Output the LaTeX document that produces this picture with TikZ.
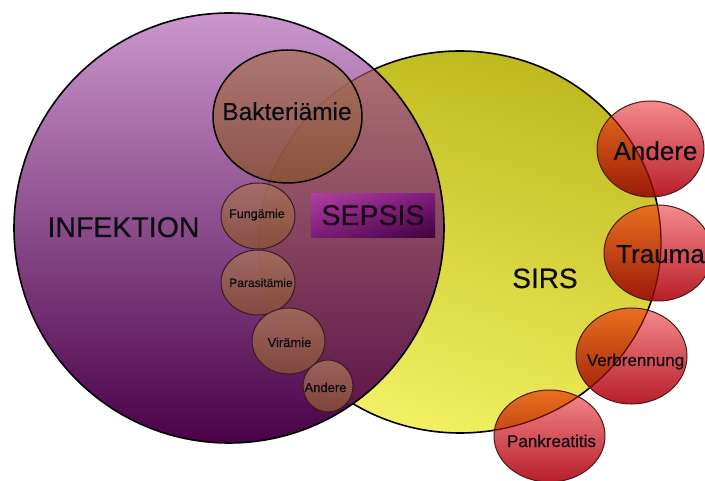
\documentclass[tikz,border=0pt]{standalone}
\usepackage{fontspec}
\setmainfont{Liberation Sans}[FakeBold=0.35]
\usetikzlibrary{shadings}
\newcommand\SirsPath{(460,242) ellipse [x radius=201pt, y radius=191pt]}
\newcommand\InfekPath{(229,228) circle [radius=215pt]}
\newcommand\FS[1]{\fontsize{#1}{#1}\selectfont}
\definecolor{ylUL}{HTML}{C6C224}
\definecolor{ylUR}{HTML}{B8B31A}
\definecolor{ylLL}{HTML}{F8F872}
\definecolor{ylLR}{HTML}{EAE650}
\definecolor{puTop}{HTML}{CB96CD}
\definecolor{puBot}{HTML}{4A0148}
\definecolor{seTop}{HTML}{B07474}
\definecolor{seBot}{HTML}{581048}
\definecolor{brTop}{HTML}{A87260}
\definecolor{brBot}{HTML}{8A5234}
\definecolor{brLine}{HTML}{3A1C1C}
\definecolor{rdTop}{HTML}{F48A8C}
\definecolor{rdBot}{HTML}{B81E2A}
\definecolor{orTop}{HTML}{E8701E}
\definecolor{orBot}{HTML}{9A1A08}
\definecolor{rdLine}{HTML}{4A1A1A}
\definecolor{arcIn}{HTML}{6E2A3C}
\definecolor{arcRed}{HTML}{6A0A08}
\definecolor{txt}{HTML}{0C0C12}
\definecolor{sbUL}{HTML}{B0409F}
\definecolor{sbUR}{HTML}{7E1C7C}
\definecolor{sbLL}{HTML}{7A1C78}
\definecolor{sbLR}{HTML}{3E003C}
\definecolor{sepTxt}{HTML}{1A0618}
\tikzset{
  lbl/.style={inner sep=0pt, anchor=base, text=txt},
  brownc/.style={top color=brTop, bottom color=brBot, fill opacity=0.8, draw=brLine, line width=1pt},
  redfill/.style={top color=rdTop, bottom color=rdBot},
  orfill/.style={top color=orTop, bottom color=orBot},
}
\newcommand\RedBlob[1]{%
  \shade[redfill] #1;
  \begin{scope}\clip \SirsPath; \shade[orfill] #1; \end{scope}
  \begin{scope}\clip #1; \draw[arcRed, line width=1.3pt] \SirsPath; \end{scope}
  \draw[rdLine, line width=1pt] #1;
}
\begin{document}
\begin{tikzpicture}[x=1pt,y=-1pt]
\useasboundingbox (0,0) rectangle (705,481);
\fill[white] (0,0) rectangle (705,481);
% SIRS ellipse
\shade[upper left=ylUL, upper right=ylUR, lower left=ylLL, lower right=ylLR] \SirsPath;
\draw[black, line width=1.6pt] \SirsPath;
% INFEKTION circle
\shade[top color=puTop, bottom color=puBot] \InfekPath;
\begin{scope}
  \clip \InfekPath;
  \shade[top color=seTop, bottom color=seBot] \SirsPath;
  \draw[arcIn, line width=1.1pt] \SirsPath;
\end{scope}
\draw[black, line width=1.6pt] \InfekPath;
% SEPSIS box
\shade[upper left=sbUL, upper right=sbUR, lower left=sbLL, lower right=sbLR] (311,194) rectangle (435,238);
% brown circles
\shadedraw[brownc, draw=black, line width=1.5pt] (287.5,116.5) ellipse [x radius=74.5pt, y radius=66.5pt];
\shadedraw[brownc] (258,216) ellipse [x radius=37pt, y radius=33pt];
\shadedraw[brownc] (258,282.5) ellipse [x radius=37pt, y radius=32.5pt];
\shadedraw[brownc] (288.5,341) ellipse [x radius=36.5pt, y radius=33pt];
\shadedraw[brownc] (328,386) ellipse [x radius=25pt, y radius=26pt];
% red blobs
\RedBlob{(650.5,149) ellipse [x radius=53.5pt, y radius=48pt]}
\RedBlob{(658,253) ellipse [x radius=54pt, y radius=48pt]}
\RedBlob{(631.5,356) ellipse [x radius=55.5pt, y radius=48pt]}
\RedBlob{(549.5,436) ellipse [x radius=55.5pt, y radius=46pt]}
% labels
\node[lbl, font=\FS{28.5}] (infektion) at (123.5,237) {INFEKTION};
\node[lbl, font=\FS{28.5}, text=sepTxt] (sepsis) at (373,225) {SEPSIS};
\node[lbl, font=\FS{24.5}] (bakt) at (287,120) {Bakteriämie};
\node[lbl, font=\FS{12.5}] (fung) at (257,218) {Fungämie};
\node[lbl, font=\FS{12}] (para) at (261,287) {Parasitämie};
\node[lbl, font=\FS{13}] (vir) at (289.5,347) {Virämie};
\node[lbl, font=\FS{13}] (andsmall) at (325.5,392) {Andere};
\node[lbl, font=\FS{28}] (sirs) at (545,288) {SIRS};
\node[lbl, font=\FS{26}] (andred) at (655.5,160) {Andere};
\node[lbl, font=\FS{26}, anchor=base west] (trauma) at (616,263) {Trauma};
\node[lbl, font=\FS{17}] (verb) at (635.5,366) {Verbrennung};
\node[lbl, font=\FS{17}] (pank) at (551.5,447) {Pankreatitis};
\end{tikzpicture}
\end{document}
